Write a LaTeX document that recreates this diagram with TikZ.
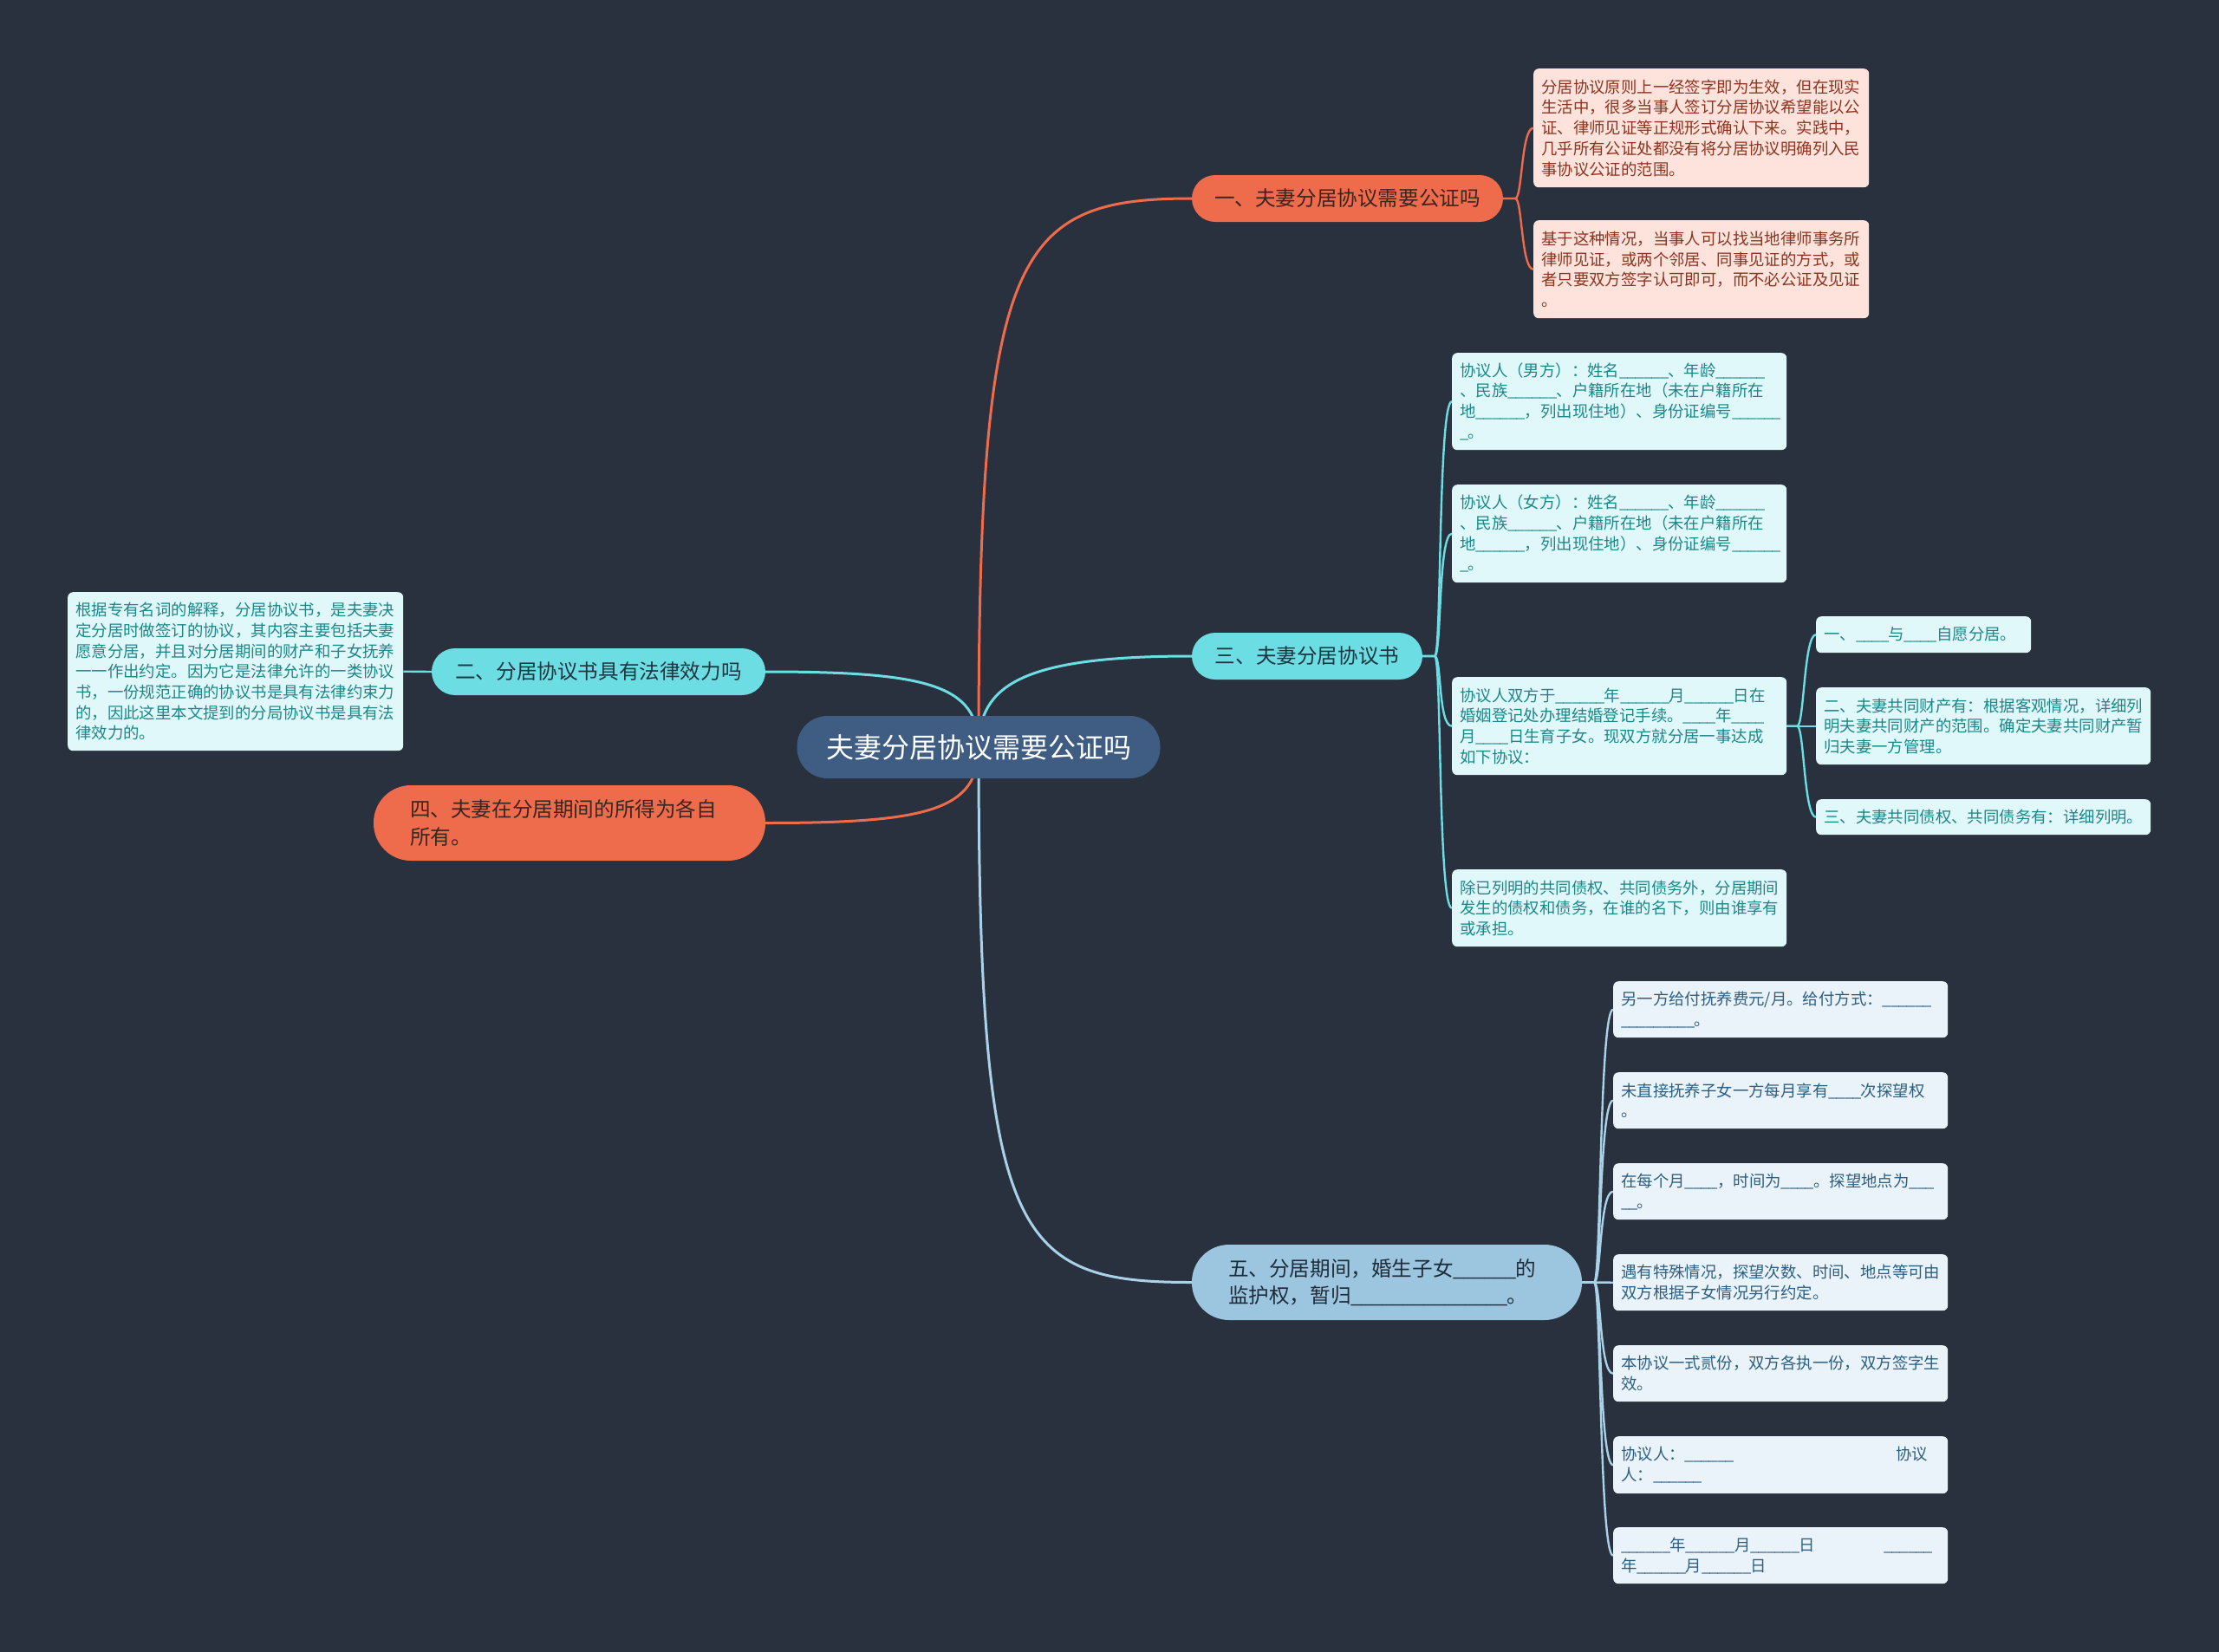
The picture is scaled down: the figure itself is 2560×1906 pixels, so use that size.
\documentclass[tikz,border=0pt]{standalone}
\usepackage{fontspec}
\setmainfont{Noto Sans CJK SC}
\pgfdeclarelayer{bg}
\pgfsetlayers{bg,main}
\definecolor{bgc}{HTML}{29303E}
\definecolor{centralF}{HTML}{3F5C83}
\definecolor{orangeF}{HTML}{EE6B4C}
\definecolor{orangeT}{HTML}{3A2520}
\definecolor{cyanF}{HTML}{6CDDE3}
\definecolor{cyanT}{HTML}{1D3640}
\definecolor{blueF}{HTML}{9CC5DF}
\definecolor{blueT}{HTML}{1F2C3A}
\definecolor{pinkF}{HTML}{FDE3DB}
\definecolor{pinkT}{HTML}{8E3320}
\definecolor{leafCF}{HTML}{E1F8FA}
\definecolor{leafCT}{HTML}{1C8789}
\definecolor{leafBF}{HTML}{EAF3F9}
\definecolor{leafBT}{HTML}{2C5F82}
\definecolor{conBlue}{HTML}{A9D1E8}
\newcommand\leaffnt{\fontsize{18.4pt}{23.7pt}\selectfont}
\newcommand\brfnt{\fontsize{23.6pt}{31.7pt}\selectfont}
\newcommand\cfnt{\fontsize{32pt}{38pt}\selectfont}
\ExplSyntaxOn
\NewDocumentCommand\blk{m}{\prg_replicate:nn{#1}{\textunderscore\kern-0.05em}}
\ExplSyntaxOff
\tikzset{
  cnode/.style={rectangle, rounded corners=35pt, minimum width=419pt, minimum height=72pt,
    fill=centralF, text=white, font=\cfnt, inner sep=0pt},
  pill/.style={rectangle, rounded corners=27pt, minimum height=54pt, inner sep=0pt, font=\brfnt},
  pillO/.style={pill, fill=orangeF, text=orangeT},
  pillC/.style={pill, fill=cyanF, text=cyanT},
  pillB/.style={pill, fill=blueF, text=blueT},
  leaf/.style={rectangle, rounded corners=6pt, anchor=north west, align=left,
    inner xsep=9pt, inner ysep=3pt, font=\leaffnt},
  leafP/.style={leaf, fill=pinkF, text=pinkT},
  leafC/.style={leaf, fill=leafCF, text=leafCT},
  leafB/.style={leaf, fill=leafBF, text=leafBT},
  conO/.style={draw=orangeF, line width=3pt},
  conC/.style={draw=cyanF, line width=3pt},
  conB/.style={draw=conBlue, line width=3pt},
  lconO/.style={draw=orangeF, line width=2.4pt},
  lconC/.style={draw=cyanF, line width=2.4pt},
  lconB/.style={draw=conBlue, line width=2.4pt},
}
\begin{document}
\begin{tikzpicture}[x=1pt,y=-1pt]
\useasboundingbox (0,0) rectangle (2560,1906);

% central
\node[cnode] (c) at (1129,862) {夫妻分居协议需要公证吗};

% branches
\node[pillO, minimum width=359pt] (b1) at (1554.5,229) {一、夫妻分居协议需要公证吗};
\node[pillC, minimum width=266pt] (b3) at (1508,757) {三、夫妻分居协议书};
\node[pillC, minimum width=385pt] (b2) at (690.5,775) {二、分居协议书具有法律效力吗};
\node[pillO, rounded corners=43pt, minimum height=87pt, text width=368pt, align=left, inner xsep=42pt]
  (b4) at (657,949.5) {四、夫妻在分居期间的所得为各自\\所有。};
\node[pillB, rounded corners=43pt, minimum height=87pt, text width=366pt, align=left, inner xsep=42pt]
  (b5) at (1600,1479.5) {五、分居期间，婚生子女\blk{6}的\\监护权，暂归\blk{15}。};

% branch 1 leaves
\node[leafP, text width=369pt, minimum height=137pt] (l1a) at (1769,79)
  {分居协议原则上一经签字即为生效，但在现实\\生活中，很多当事人签订分居协议希望能以公\\证、律师见证等正规形式确认下来。实践中，\\几乎所有公证处都没有将分居协议明确列入民\\事协议公证的范围。};
\node[leafP, text width=369pt, minimum height=113pt] (l1b) at (1769,254)
  {基于这种情况，当事人可以找当地律师事务所\\律师见证，或两个邻居、同事见证的方式，或\\者只要双方签字认可即可，而不必公证及见证\\。};

% branch 2 leaf
\node[leafC, text width=369pt, minimum height=183pt] (l2) at (78,683)
  {根据专有名词的解释，分居协议书，是夫妻决\\定分居时做签订的协议，其内容主要包括夫妻\\愿意分居，并且对分居期间的财产和子女抚养\\一一作出约定。因为它是法律允许的一类协议\\书，一份规范正确的协议书是具有法律约束力\\的，因此这里本文提到的分局协议书是具有法\\律效力的。};

% branch 3 leaves
\node[leafC, text width=368pt, minimum height=112pt] (l3a) at (1675,407)
  {协议人（男方）：姓名\blk{6}、年龄\blk{6}\\、民族\blk{6}、户籍所在地（未在户籍所在\\地\blk{6}，列出现住地）、身份证编号\blk{6}\\\blk{1}。};
\node[leafC, text width=368pt, minimum height=113pt] (l3b) at (1675,559)
  {协议人（女方）：姓名\blk{6}、年龄\blk{6}\\、民族\blk{6}、户籍所在地（未在户籍所在\\地\blk{6}，列出现住地）、身份证编号\blk{6}\\\blk{1}。};
\node[leafC, text width=368pt, minimum height=113pt] (l3c) at (1675,781)
  {协议人双方于\blk{6}年\blk{6}月\blk{6}日在\\婚姻登记处办理结婚登记手续。\blk{4}年\blk{4}\\月\blk{4}日生育子女。现双方就分居一事达成\\如下协议：};
\node[leafC, text width=368pt, minimum height=89pt] (l3d) at (1675,1003)
  {除已列明的共同债权、共同债务外，分居期间\\发生的债权和债务，在谁的名下，则由谁享有\\或承担。};

% sub leaves of l3c
\node[leafC, text width=230pt, minimum height=42pt] (s1) at (2095,711)
  {一、\blk{4}与\blk{4}自愿分居。};
\node[leafC, text width=368pt, minimum height=89pt] (s2) at (2095,793)
  {二、夫妻共同财产有：根据客观情况，详细列\\明夫妻共同财产的范围。确定夫妻共同财产暂\\归夫妻一方管理。};
\node[leafC, text width=368pt, minimum height=41pt] (s3) at (2095,922)
  {三、夫妻共同债权、共同债务有：详细列明。};

% branch 5 leaves
\node[leafB, text width=368pt, minimum height=65pt] (l5a) at (1861,1132)
  {另一方给付抚养费元/月。给付方式：\blk{6}\\\blk{9}。};
\node[leafB, text width=368pt, minimum height=65pt] (l5b) at (1861,1237)
  {未直接抚养子女一方每月享有\blk{4}次探望权\\。};
\node[leafB, text width=368pt, minimum height=65pt] (l5c) at (1861,1342)
  {在每个月\blk{4}，时间为\blk{4}。探望地点为\blk{3}\\\blk{2}。};
\node[leafB, text width=368pt, minimum height=65pt] (l5d) at (1861,1447)
  {遇有特殊情况，探望次数、时间、地点等可由\\双方根据子女情况另行约定。};
\node[leafB, text width=368pt, minimum height=65pt] (l5e) at (1861,1552)
  {本协议一式贰份，双方各执一份，双方签字生\\效。};
\node[leafB, text width=368pt, minimum height=66pt] (l5f) at (1861,1657)
  {协议人：\blk{6}\hfill 协议\hbox to 14pt{}\\人：\blk{6}};
\node[leafB, text width=368pt, minimum height=65pt] (l5g) at (1861,1762)
  {\blk{6}年\blk{6}月\blk{6}日\hfill\blk{6}\hbox to 9pt{}\\年\blk{6}月\blk{6}日};

\begin{pgfonlayer}{bg}
\fill[bgc] (0,0) rectangle (2560,1906);
% central connectors
\draw[conO] (c.center) .. controls (1129,290) and (1170,229) .. (b1.west);
\draw[conC] (c.center) .. controls (1129,790) and (1180,757) .. (b3.west);
\draw[conC] (c.center) .. controls (1129,790) and (1070,775) .. (b2.east);
\draw[conO] (c.center) .. controls (1129,935) and (1070,949.5) .. (b4.east);
\draw[conB] (c.center) .. controls (1129,1430) and (1170,1479.5) .. (b5.west);
% branch 1 leaves
\draw[lconO] (b1.east) -- ++(14,0) .. controls +(8,0) and +(-14,0) .. (l1a.west);
\draw[lconO] (b1.east) -- ++(14,0) .. controls +(8,0) and +(-14,0) .. (l1b.west);
% branch 2 leaf
\draw[lconC] (b2.west) -- (l2.east);
% branch 3 leaves
\draw[lconC] (b3.east) -- ++(14,0) .. controls +(8,0) and +(-16,0) .. (l3a.west);
\draw[lconC] (b3.east) -- ++(14,0) .. controls +(8,0) and +(-16,0) .. (l3b.west);
\draw[lconC] (b3.east) -- ++(14,0) .. controls +(8,0) and +(-16,0) .. (l3c.west);
\draw[lconC] (b3.east) -- ++(14,0) .. controls +(8,0) and +(-16,0) .. (l3d.west);
% sub leaves
\draw[lconC] (l3c.east) -- ++(12,0) .. controls +(8,0) and +(-14,0) .. (s1.west);
\draw[lconC] (l3c.east) -- (s2.west);
\draw[lconC] (l3c.east) -- ++(12,0) .. controls +(8,0) and +(-14,0) .. (s3.west);
% branch 5 leaves
\draw[lconB] (b5.east) -- ++(14,0) .. controls +(8,0) and +(-16,0) .. (l5a.west);
\draw[lconB] (b5.east) -- ++(14,0) .. controls +(8,0) and +(-16,0) .. (l5b.west);
\draw[lconB] (b5.east) -- ++(14,0) .. controls +(8,0) and +(-16,0) .. (l5c.west);
\draw[lconB] (b5.east) -- (l5d.west);
\draw[lconB] (b5.east) -- ++(14,0) .. controls +(8,0) and +(-16,0) .. (l5e.west);
\draw[lconB] (b5.east) -- ++(14,0) .. controls +(8,0) and +(-16,0) .. (l5f.west);
\draw[lconB] (b5.east) -- ++(14,0) .. controls +(8,0) and +(-16,0) .. (l5g.west);
\end{pgfonlayer}
\end{tikzpicture}
\end{document}
